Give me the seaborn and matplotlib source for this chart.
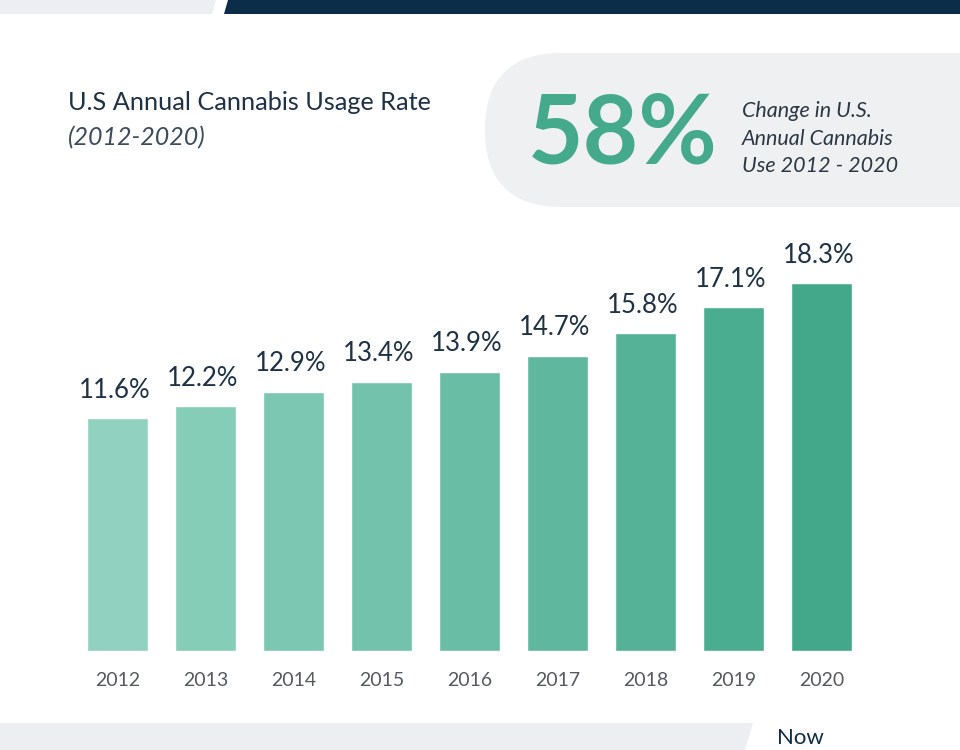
import matplotlib
matplotlib.use("Agg")
import matplotlib.pyplot as plt
import seaborn as sns
import pandas as pd
from matplotlib.patches import FancyBboxPatch, Polygon

# ---- data ----
years = ["2012", "2013", "2014", "2015", "2016", "2017", "2018", "2019", "2020"]
usage = [11.6, 12.2, 12.9, 13.4, 13.9, 14.7, 15.8, 17.1, 18.3]
value_labels = ["11.6%", "12.2%", "12.9%", "13.4%", "13.9%", "14.7%", "15.8%", "17.1%", "18.3%"]
title = "U.S Annual Cannabis Usage Rate"
subtitle = "(2012-2020)"
headline = "58%"
headline_note = ["Change in U.S.", "Annual Cannabis", "Use 2012 - 2020"]

sns.set_theme(style="white")
plt.rcParams["font.family"] = ["Lato", "DejaVu Sans"]

NAVY = "#0b2d4a"
TEXT = "#1d3247"
GRAY_BG = "#eceef1"

fig = plt.figure(figsize=(9.6, 7.5), dpi=100)
fig.patch.set_facecolor("white")

# background / decoration axes in pixel coordinates
bg = fig.add_axes([0, 0, 1, 1], zorder=0)
bg.set_xlim(0, 960)
bg.set_ylim(750, 0)
bg.axis("off")

# top banner
bg.add_patch(Polygon([(0, 0), (216, 0), (212, 14), (0, 14)], closed=True, color=GRAY_BG, lw=0))
bg.add_patch(Polygon([(228, 0), (960, 0), (960, 14), (224, 14)], closed=True, color=NAVY, lw=0))

# pill
bg.add_patch(FancyBboxPatch((485, 53), 620, 154,
                            boxstyle="round,pad=0,rounding_size=77",
                            color="#eef0f2", lw=0, clip_on=True))

# bottom band
bg.add_patch(Polygon([(0, 723), (753, 723), (745, 750), (0, 750)], closed=True, color=GRAY_BG, lw=0))
bg.text(777, 748, "Now", fontsize=16, color=NAVY, ha="left", va="bottom")

# titles
bg.text(68, 110, title, fontsize=18.2, color=TEXT, ha="left", va="baseline")
bg.text(68, 145, subtitle, fontsize=18, color="#3d4c5c", style="italic", ha="left", va="baseline")

bg.text(528, 163, headline, fontsize=69, fontweight="bold", color="#45aa8b", ha="left", va="baseline")
for yb, line in zip([117, 145, 172], headline_note):
    bg.text(742, yb, line, fontsize=15.5, color="#2b3744", style="italic",
            ha="left", va="baseline")

# ---- bar chart ----
ax = fig.add_axes([73.5 / 960, (750 - 651) / 750, 792 / 960, 402 / 750], zorder=1)
ax.patch.set_alpha(0)
df = pd.DataFrame({"year": years, "usage": usage})
colors = sns.blend_palette(["#90d2bf", "#42a889"], len(years))
sns.barplot(data=df, x="year", y="usage", hue="year", palette=colors, width=0.7,
            legend=False, ax=ax, saturation=1)
ax.set_ylim(0, 20)
ax.set_xlim(-0.5, len(years) - 0.5)
for i, (v, lab) in enumerate(zip(usage, value_labels)):
    ax.annotate(lab, xy=(i, v), xytext=(-2, 20), textcoords="offset points",
                ha="center", va="center", fontsize=18.5, color=TEXT)
ax.set_xlabel("")
ax.set_ylabel("")
ax.set_yticks([])
ax.tick_params(axis="x", length=0, pad=15, labelsize=14, labelcolor="#555a60")
for s in ax.spines.values():
    s.set_visible(False)

fig.savefig("out.png", dpi=100, facecolor="white")
